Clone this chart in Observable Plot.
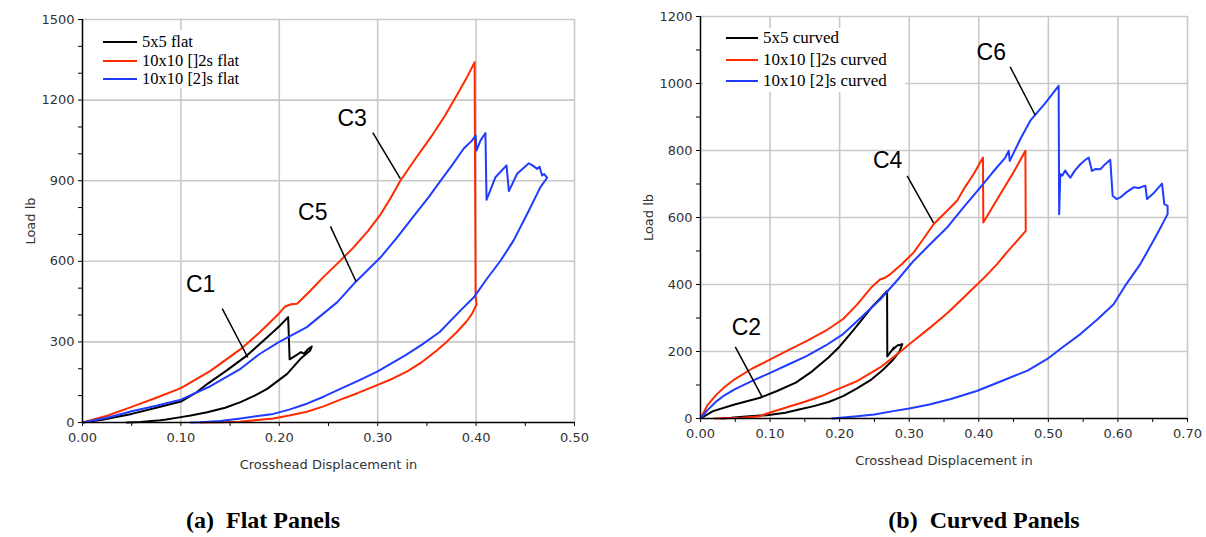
<!DOCTYPE html>
<html>
<head>
<meta charset="utf-8">
<script src="https://cdn.jsdelivr.net/npm/d3@7"></script>
<script src="https://cdn.jsdelivr.net/npm/@observablehq/plot@0.6"></script>
<style>
  body { margin: 0; background: #fff; }
  #wrap { position: relative; width: 1206px; height: 537px; overflow: hidden; background: #fff; }
  .chart { position: absolute; top: 0; }
  .legend { position: absolute; background: #fff; }
  .lg-item { position: absolute; height: 20px; line-height: 20px; font-family: "Liberation Serif", "Times New Roman", serif; color: #000; white-space: pre; }
  .lg-line { position: absolute; height: 0; border-top: 2.2px solid #000; }
  .caption { position: absolute; font-family: "Liberation Serif", "Times New Roman", serif; font-weight: bold; font-size: 24px; color: #000; white-space: pre; transform: translateX(-50%); }
</style>
</head>
<body>
<div id="wrap">
  <div id="left" class="chart" style="left:0px"></div>
  <div id="right" class="chart" style="left:600px"></div>
</div>
<script>
// ---------------- data ----------------
const seriesColors = ["#000000", "#ff2a00", "#1f3cff"];
const flatSeries = ["5x5 flat", "10x10 []2s flat", "10x10 [2]s flat"];
const curvedSeries = ["5x5 curved", "10x10 []2s curved", "10x10 [2]s curved"];

const flatXTicks = [0, 0.1, 0.2, 0.3, 0.4, 0.5];
const flatXMinor = [0, 0.05, 0.1, 0.15, 0.2, 0.25, 0.3, 0.35, 0.4, 0.45, 0.5];
const flatYTicks = [0, 300, 600, 900, 1200, 1500];
const flatYMinor = [0, 100, 200, 300, 400, 500, 600, 700, 800, 900, 1000, 1100, 1200, 1300, 1400, 1500];

const curvedXTicks = [0, 0.1, 0.2, 0.3, 0.4, 0.5, 0.6, 0.7];
const curvedXMinor = [0, 0.05, 0.1, 0.15, 0.2, 0.25, 0.3, 0.35, 0.4, 0.45, 0.5, 0.55, 0.6, 0.65, 0.7];
const curvedYTicks = [0, 200, 400, 600, 800, 1000, 1200];
const curvedYMinor = [0, 100, 200, 300, 400, 500, 600, 700, 800, 900, 1000, 1100, 1200];

// flat panels: [displacement in, load lb]
const flat5x5 = [
  [0,0],[0.02,10],[0.05,32],[0.075,55],[0.10,78],[0.115,110],[0.127,144],[0.147,195],[0.167,249],
  [0.188,318],[0.20,358],[0.209,392],[0.2105,235],[0.217,250],[0.222,262],[0.225,256],[0.229,272],[0.233,283],
  [0.2315,268],[0.2215,237],[0.208,181],[0.1877,125],[0.175,100],[0.1606,76],[0.145,55],[0.1267,38],
  [0.11,26],[0.10,20],[0.085,11],[0.076,7],[0.059,2],[0.045,0]
];
const flat10Square = [
  [0,0],[0.025,25],[0.05,58],[0.075,92],[0.10,128],[0.13,192],[0.161,274],[0.18,335],[0.1995,405],
  [0.206,432],[0.212,440],[0.218,442],[0.23,485],[0.245,542],[0.26,595],[0.275,650],[0.29,712],[0.303,775],
  [0.313,835],[0.323,900],[0.338,980],[0.354,1062],[0.368,1140],[0.381,1222],[0.39,1280],[0.3985,1341],
  [0.3995,470],[0.4005,440],[0.396,405],[0.39,375],[0.38,335],[0.37,300],[0.36,268],[0.345,225],[0.33,190],
  [0.315,163],[0.30,140],[0.28,110],[0.262,85],[0.245,60],[0.228,40],[0.21,26],[0.194,15],[0.175,8],
  [0.16,3],[0.14,1],[0.12,0]
];
const flat10Two = [
  [0,0],[0.025,18],[0.05,42],[0.075,62],[0.10,85],[0.13,135],[0.1606,200],[0.18,255],[0.1995,299],
  [0.228,355],[0.259,448],[0.278,525],[0.303,615],[0.32,690],[0.337,770],[0.352,840],[0.364,900],
  [0.376,960],[0.3875,1020],[0.396,1050],[0.3995,1068],[0.4004,1012],[0.4045,1050],[0.4095,1077],
  [0.4106,829],[0.4197,913],[0.4309,957],[0.4333,861],[0.4417,926],[0.4536,965],[0.458,955],[0.462,944],
  [0.4645,952],[0.467,919],[0.469,925],[0.4722,911],[0.4654,876],[0.452,777],[0.438,677],[0.425,603],
  [0.411,535],[0.3977,466],[0.385,420],[0.363,337],[0.345,290],[0.328,250],[0.30,190],[0.28,155],
  [0.262,125],[0.245,96],[0.228,70],[0.21,48],[0.194,32],[0.1606,15],[0.14,6],[0.12,1],[0.11,0]
];

// curved panels
const curved5x5 = [
  [0,0],[0.018,22],[0.049,42],[0.0856,62],[0.11,82],[0.137,107],[0.16,140],[0.184,182],[0.20,215],
  [0.215,252],[0.23,290],[0.246,332],[0.258,358],[0.2682,381],[0.2685,185],[0.272,195],[0.278,212],
  [0.276,205],[0.283,218],[0.290,222],[0.286,200],[0.2775,177],[0.262,145],[0.246,117],[0.225,90],
  [0.205,67],[0.185,50],[0.163,37],[0.14,26],[0.122,17],[0.095,10],[0.07,7],[0.044,2],[0.03,0]
];
const curved10Square = [
  [0,0],[0.01,40],[0.0233,72],[0.035,95],[0.049,117],[0.075,150],[0.101,177],[0.127,205],[0.153,232],
  [0.18,262],[0.205,297],[0.225,340],[0.245,390],[0.258,415],[0.265,420],[0.273,431],[0.29,462],
  [0.3065,496],[0.32,535],[0.335,580],[0.352,615],[0.3688,650],[0.38,690],[0.3927,730],[0.406,779],
  [0.4065,585],[0.431,670],[0.45,735],[0.467,799],[0.4675,560],[0.455,530],[0.44,495],[0.4263,461],
  [0.41,425],[0.395,395],[0.3783,361],[0.355,315],[0.3305,272],[0.305,230],[0.2826,192],[0.26,155],
  [0.2256,112],[0.20,90],[0.174,67],[0.15,50],[0.122,32],[0.10,18],[0.0856,7],[0.06,2],[0.02,0]
];
const curved10Two = [
  [0,0],[0.01,25],[0.0233,52],[0.035,70],[0.049,87],[0.075,113],[0.101,137],[0.127,162],[0.153,187],
  [0.18,218],[0.205,252],[0.23,300],[0.2586,356],[0.2825,412],[0.3065,471],[0.33,520],[0.3544,570],
  [0.378,630],[0.4023,690],[0.42,735],[0.4382,779],[0.443,799],[0.4445,769],[0.46,835],[0.474,889],
  [0.495,940],[0.5148,993],[0.5155,610],[0.5172,730],[0.52,725],[0.5243,740],[0.528,728],[0.5316,719],
  [0.538,740],[0.546,759],[0.552,770],[0.5579,779],[0.5627,739],[0.568,745],[0.5747,744],[0.582,760],
  [0.589,772],[0.5924,665],[0.598,655],[0.6034,660],[0.612,675],[0.6226,690],[0.63,688],[0.6394,695],
  [0.6418,655],[0.65,670],[0.6634,701],[0.6667,640],[0.6714,635],[0.6714,610],[0.6562,550],[0.6322,461],
  [0.61,395],[0.5938,341],[0.57,295],[0.546,252],[0.52,212],[0.498,177],[0.47,143],[0.433,112],
  [0.397,82],[0.36,58],[0.329,42],[0.30,30],[0.277,22],[0.25,12],[0.2255,7],[0.189,0]
];

// annotations
const flatLabels = [
  {x: 0.120, y: 512, text: "C1"},
  {x: 0.274, y: 1131, text: "C3"},
  {x: 0.234, y: 782, text: "C5"}
];
const flatLeaders = [
  {x1: 0.142, y1: 424, x2: 0.168, y2: 242},
  {x1: 0.295, y1: 1079, x2: 0.323, y2: 908},
  {x1: 0.252, y1: 730, x2: 0.278, y2: 525}
];
const curvedLabels = [
  {x: 0.066, y: 270, text: "C2"},
  {x: 0.269, y: 769, text: "C4"},
  {x: 0.418, y: 1091, text: "C6"}
];
const curvedLeaders = [
  {x1: 0.050, y1: 214, x2: 0.088, y2: 67},
  {x1: 0.297, y1: 724, x2: 0.335, y2: 584},
  {x1: 0.445, y1: 1050, x2: 0.481, y2: 906}
];

// ---------------- drawing ----------------
const fmt2 = d3.format(".2f");
const fmtInt = d => String(d);

function makeChart(opts) {
  const {width, height, mL, mR, mT, mB, xDomain, yDomain, xTicks, xMinor, yTicks, yMinor, series, labels, leaders} = opts;
  return Plot.plot({
    width, height,
    marginLeft: mL, marginRight: mR, marginTop: mT, marginBottom: mB,
    x: {domain: xDomain},
    y: {domain: yDomain},
    style: {fontFamily: "'DejaVu Sans', Verdana, sans-serif", fontSize: "13px", color: "#333", background: "white", overflow: "visible"},
    marks: [
      Plot.ruleX(xTicks.filter(d => d > 0), {stroke: "#c9c9c9", strokeWidth: 1.6}),
      Plot.ruleY(yTicks.filter(d => d > 0), {stroke: "#c9c9c9", strokeWidth: 1.6}),
      Plot.axisX(xMinor, {tickSize: 4, tickFormat: () => "", label: null, stroke: "#000"}),
      Plot.axisX(xTicks, {tickSize: 0, tickPadding: 10, tickFormat: fmt2, label: "Crosshead Displacement in",
        labelAnchor: "center", labelArrow: "none", labelOffset: 46, fill: "#333"}),
      Plot.axisY(yMinor, {tickSize: 4, tickFormat: () => "", label: null, stroke: "#000"}),
      Plot.axisY(yTicks, {tickSize: 0, tickPadding: 8, tickFormat: fmtInt, label: "Load lb", labelAnchor: "center",
        labelArrow: "none", labelOffset: 57, fill: "#333"}),
      ...series.map((s, i) => Plot.line(s, {x: d => d[0], y: d => d[1], stroke: seriesColors[i], strokeWidth: 2})),
      Plot.link(leaders, {x1: "x1", y1: "y1", x2: "x2", y2: "y2", stroke: "#000", strokeWidth: 1.5}),
      Plot.text(labels, {x: "x", y: "y", text: "text", fontSize: 23, fontFamily: "'Liberation Sans', Arial, sans-serif", fill: "#000"}),
      Plot.ruleY([yDomain[0]], {stroke: "#000", strokeWidth: 1.5}),
      Plot.ruleX([xDomain[0]], {stroke: "#000", strokeWidth: 1.5})
    ]
  });
}

document.getElementById("left").appendChild(makeChart({
  width: 600, height: 480, mL: 82, mR: 26, mT: 19, mB: 58,
  xDomain: [0, 0.5], yDomain: [0, 1500],
  xTicks: flatXTicks, xMinor: flatXMinor, yTicks: flatYTicks, yMinor: flatYMinor,
  series: [flat5x5, flat10Square, flat10Two],
  labels: flatLabels, leaders: flatLeaders
}));

document.getElementById("right").appendChild(makeChart({
  width: 606, height: 480, mL: 100, mR: 19, mT: 16, mB: 62,
  xDomain: [0, 0.7], yDomain: [0, 1200],
  xTicks: curvedXTicks, xMinor: curvedXMinor, yTicks: curvedYTicks, yMinor: curvedYMinor,
  series: [curved5x5, curved10Square, curved10Two],
  labels: curvedLabels, leaders: curvedLeaders
}));

// legends (HTML overlays)
const wrap = document.getElementById("wrap");
function addLegend(names, box, lineX1, lineX2, rowsY, textX, fontSize) {
  const lg = document.createElement("div");
  lg.className = "legend";
  Object.assign(lg.style, {left: box[0] + "px", top: box[1] + "px", width: box[2] + "px", height: box[3] + "px"});
  wrap.appendChild(lg);
  names.forEach((name, i) => {
    const ln = document.createElement("div");
    ln.className = "lg-line";
    Object.assign(ln.style, {left: lineX1 + "px", width: (lineX2 - lineX1) + "px", top: (rowsY[i] - 1) + "px", borderTopColor: seriesColors[i]});
    wrap.appendChild(ln);
    const t = document.createElement("div");
    t.className = "lg-item";
    t.textContent = name;
    Object.assign(t.style, {left: textX + "px", top: (rowsY[i] - 10) + "px", fontSize: fontSize + "px"});
    wrap.appendChild(t);
  });
}
addLegend(flatSeries, [86, 30, 162, 58], 103, 137, [42, 61, 79], 142, 16.5);
addLegend(curvedSeries, [703, 28, 202, 64], 726, 758, [38, 60, 81], 763, 17);

// captions
const captions = [["(a)  Flat Panels", 263], ["(b)  Curved Panels", 984]];
captions.forEach(([txt, cx]) => {
  const c = document.createElement("div");
  c.className = "caption";
  c.textContent = txt;
  Object.assign(c.style, {left: cx + "px", top: "507px"});
  wrap.appendChild(c);
});
</script>
</body>
</html>
